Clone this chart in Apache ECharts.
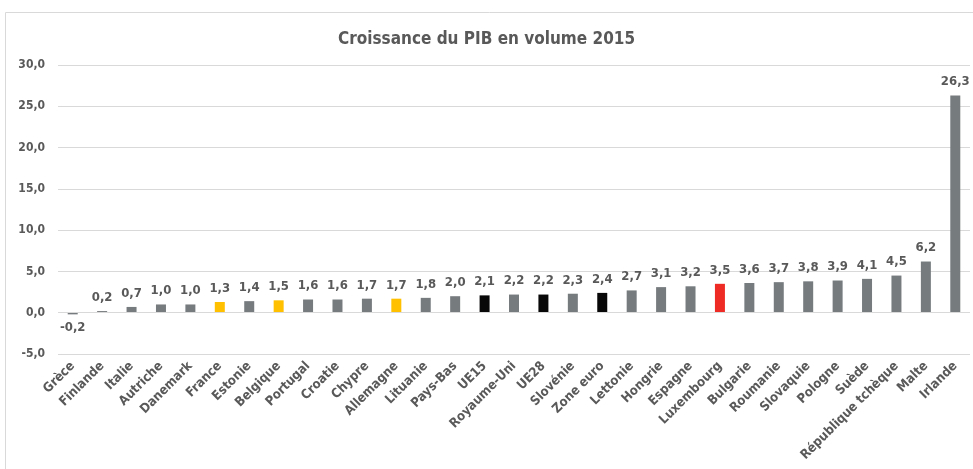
<!DOCTYPE html>
<html><head><meta charset="utf-8">
<script src="https://cdn.jsdelivr.net/npm/echarts@6/dist/echarts.min.js"></script>
<style>html,body{margin:0;padding:0;background:#fff}#c{width:973px;height:469px}</style>
</head><body><div id="c"></div>
<script>
const categories = ["Grèce","Finlande","Italie","Autriche","Danemark","France","Estonie","Belgique","Portugal","Croatie","Chypre","Allemagne","Lituanie","Pays-Bas","UE15","Royaume-Uni","UE28","Slovénie","Zone euro","Lettonie","Hongrie","Espagne","Luxembourg","Bulgarie","Roumanie","Slovaquie","Pologne","Suède","République tchèque","Malte","Irlande"];
const values = [-0.2,0.2,0.7,1.0,1.0,1.3,1.4,1.5,1.6,1.6,1.7,1.7,1.8,2.0,2.1,2.2,2.2,2.3,2.4,2.7,3.1,3.2,3.5,3.6,3.7,3.8,3.9,4.1,4.5,6.2,26.3];
const yTicks = [-5,30,5];
const title = "Croissance du PIB en volume 2015";

const highlight = {"France":"#FFC000","Belgique":"#FFC000","Allemagne":"#FFC000","UE15":"#080808","UE28":"#080808","Zone euro":"#080808","Luxembourg":"#EE2B24"};
const baseColor = "#767B7E";
const FONT = "'Liberation Sans Narrow','DejaVu Sans Condensed','Open Sans',sans-serif";
const fmt = v => v.toFixed(1).replace('.', ',');

const chart = echarts.init(document.getElementById('c'));
chart.setOption({
  animation:false,
  title:{text:title,left:'center',top:26,textStyle:{fontFamily:FONT,fontSize:17,fontWeight:'bold',color:'#595959'}},
  graphic:[{type:'rect',shape:{x:5.5,y:12.5,width:980,height:480},style:{fill:'none',stroke:'#D9D9D9',lineWidth:1},silent:true}],
  grid:{left:58,right:3,top:65,bottom:115,containLabel:false},
  xAxis:{type:'category',data:categories,position:'bottom',
    axisLine:{show:false},axisTick:{show:false},
    axisLabel:{rotate:45,interval:0,margin:10,fontFamily:FONT,fontSize:13,fontWeight:'bold',color:'#595959'}},
  yAxis:{type:'value',min:yTicks[0],max:yTicks[1],interval:yTicks[2],
    axisLine:{show:false},axisTick:{show:false},
    splitLine:{lineStyle:{color:'#D9D9D9',width:1}},
    axisLabel:{formatter:fmt,margin:13,fontFamily:FONT,fontSize:12,fontWeight:'bold',color:'#595959'}},
  series:[{type:'bar',barWidth:10,
    data:values.map((v,i)=>({value:v,itemStyle:{color:highlight[categories[i]]||baseColor}})),
    label:{show:true,position:'outside',distance:7,formatter:p=>fmt(p.value),fontFamily:FONT,fontSize:13,fontWeight:'bold',color:'#595959'},
    markLine:{silent:true,symbol:'none',label:{show:false},lineStyle:{color:'#D9D9D9',type:'solid',width:1},data:[{yAxis:0}]}
  }]
});
</script></body></html>
